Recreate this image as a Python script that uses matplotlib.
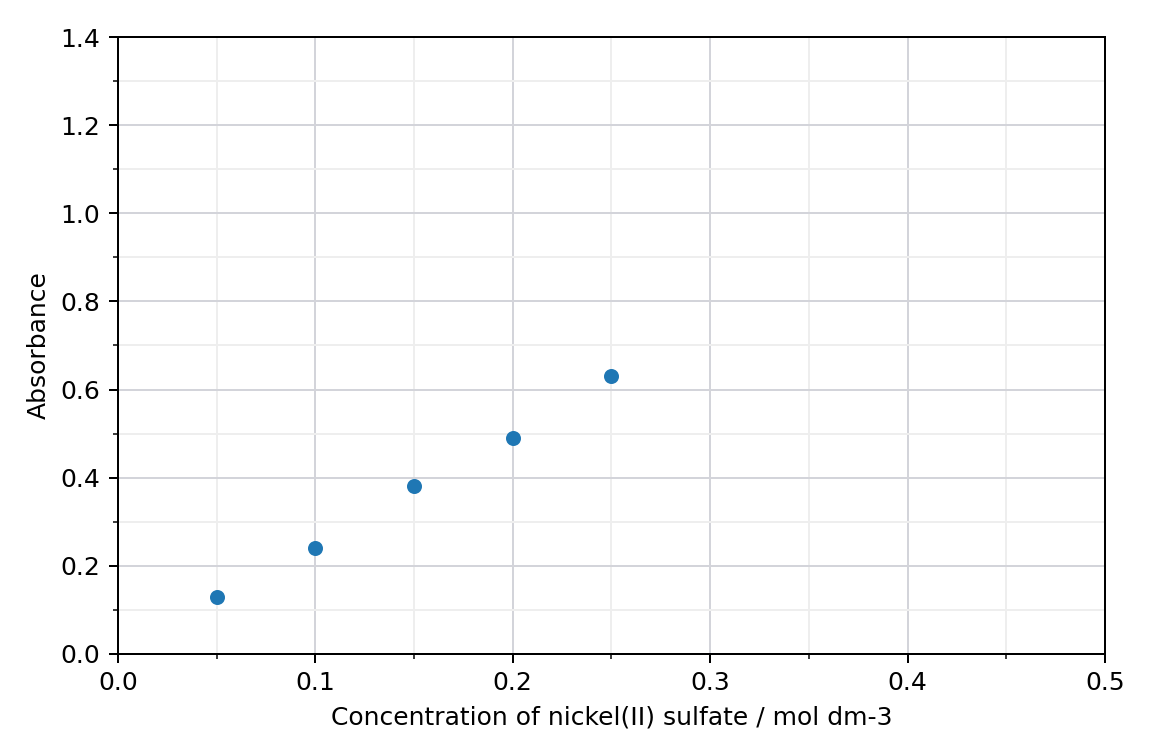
import matplotlib
matplotlib.use("Agg")
import matplotlib.pyplot as plt
from matplotlib.ticker import MultipleLocator

concentration = [0.05, 0.10, 0.15, 0.20, 0.25]
absorbance = [0.13, 0.24, 0.38, 0.49, 0.63]

fig = plt.figure(figsize=(6.4, 4.2), dpi=180)
ax = fig.add_axes([0.1024, 0.135, 0.9592 - 0.1024, 0.951 - 0.135])
ax.plot(concentration, absorbance, 'o', color='#1f77b4', markersize=5, zorder=3)
ax.set_xlim(0, 0.5)
ax.set_ylim(0, 1.4)
ax.xaxis.set_major_locator(MultipleLocator(0.1))
ax.xaxis.set_minor_locator(MultipleLocator(0.05))
ax.yaxis.set_major_locator(MultipleLocator(0.2))
ax.yaxis.set_minor_locator(MultipleLocator(0.1))
ax.grid(which='major', color='#d3d4da', linewidth=0.8)
ax.grid(which='minor', color='#eeeeee', linewidth=0.8)
ax.set_axisbelow(True)
ax.set_xlabel('Concentration of nickel(II) sulfate / mol dm-3')
ax.set_ylabel('Absorbance')
fig.savefig('out.png', dpi=180)
